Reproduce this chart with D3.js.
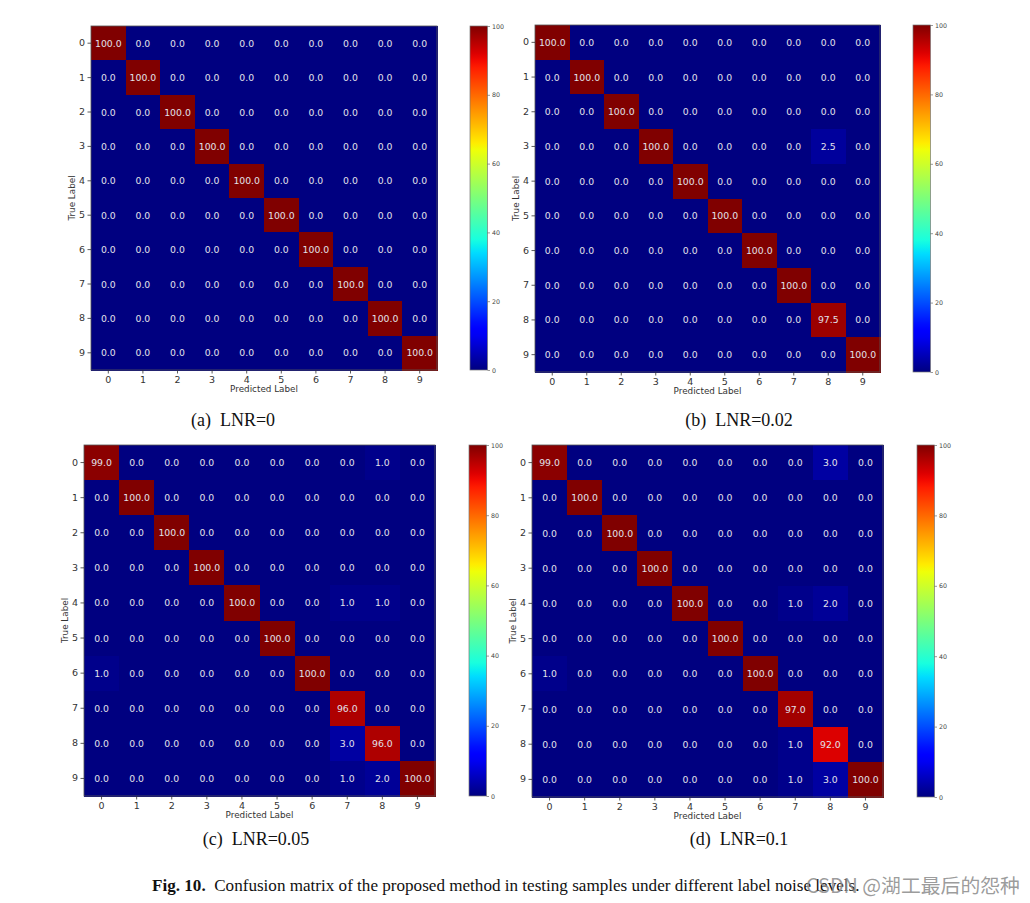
<!DOCTYPE html>
<html>
<head>
<meta charset="utf-8">
<script src="https://cdn.jsdelivr.net/npm/d3@7"></script>
<style>
  html, body { margin: 0; padding: 0; background: #ffffff; }
  svg { display: block; }
</style>
</head>
<body>
<svg id="chart" width="1030" height="903"></svg>
<script>
// ---------------- DATA ----------------
const classes = [0, 1, 2, 3, 4, 5, 6, 7, 8, 9];
const colorbarTicks = [0, 20, 40, 60, 80, 100];

const matrixA = [
  [100, 0, 0, 0, 0, 0, 0, 0, 0, 0],
  [0, 100, 0, 0, 0, 0, 0, 0, 0, 0],
  [0, 0, 100, 0, 0, 0, 0, 0, 0, 0],
  [0, 0, 0, 100, 0, 0, 0, 0, 0, 0],
  [0, 0, 0, 0, 100, 0, 0, 0, 0, 0],
  [0, 0, 0, 0, 0, 100, 0, 0, 0, 0],
  [0, 0, 0, 0, 0, 0, 100, 0, 0, 0],
  [0, 0, 0, 0, 0, 0, 0, 100, 0, 0],
  [0, 0, 0, 0, 0, 0, 0, 0, 100, 0],
  [0, 0, 0, 0, 0, 0, 0, 0, 0, 100]
];
const matrixB = [
  [100, 0, 0, 0, 0, 0, 0, 0, 0, 0],
  [0, 100, 0, 0, 0, 0, 0, 0, 0, 0],
  [0, 0, 100, 0, 0, 0, 0, 0, 0, 0],
  [0, 0, 0, 100, 0, 0, 0, 0, 2.5, 0],
  [0, 0, 0, 0, 100, 0, 0, 0, 0, 0],
  [0, 0, 0, 0, 0, 100, 0, 0, 0, 0],
  [0, 0, 0, 0, 0, 0, 100, 0, 0, 0],
  [0, 0, 0, 0, 0, 0, 0, 100, 0, 0],
  [0, 0, 0, 0, 0, 0, 0, 0, 97.5, 0],
  [0, 0, 0, 0, 0, 0, 0, 0, 0, 100]
];
const matrixC = [
  [99, 0, 0, 0, 0, 0, 0, 0, 1, 0],
  [0, 100, 0, 0, 0, 0, 0, 0, 0, 0],
  [0, 0, 100, 0, 0, 0, 0, 0, 0, 0],
  [0, 0, 0, 100, 0, 0, 0, 0, 0, 0],
  [0, 0, 0, 0, 100, 0, 0, 1, 1, 0],
  [0, 0, 0, 0, 0, 100, 0, 0, 0, 0],
  [1, 0, 0, 0, 0, 0, 100, 0, 0, 0],
  [0, 0, 0, 0, 0, 0, 0, 96, 0, 0],
  [0, 0, 0, 0, 0, 0, 0, 3, 96, 0],
  [0, 0, 0, 0, 0, 0, 0, 1, 2, 100]
];
const matrixD = [
  [99, 0, 0, 0, 0, 0, 0, 0, 3, 0],
  [0, 100, 0, 0, 0, 0, 0, 0, 0, 0],
  [0, 0, 100, 0, 0, 0, 0, 0, 0, 0],
  [0, 0, 0, 100, 0, 0, 0, 0, 0, 0],
  [0, 0, 0, 0, 100, 0, 0, 1, 2, 0],
  [0, 0, 0, 0, 0, 100, 0, 0, 0, 0],
  [1, 0, 0, 0, 0, 0, 100, 0, 0, 0],
  [0, 0, 0, 0, 0, 0, 0, 97, 0, 0],
  [0, 0, 0, 0, 0, 0, 0, 1, 92, 0],
  [0, 0, 0, 0, 0, 0, 0, 1, 3, 100]
];
const subCaptions = ["(a)\u00a0\u00a0LNR=0", "(b)\u00a0\u00a0LNR=0.02", "(c)\u00a0\u00a0LNR=0.05", "(d)\u00a0\u00a0LNR=0.1"];
const figLabel = "Fig. 10.";
const figText = "Confusion matrix of the proposed method in testing samples under different label noise levels.";
const watermark = "CSDN @湖工最后的怨种";
const xAxisTitle = "Predicted Label";
const yAxisTitle = "True Label";

// ---------------- LAYOUT ----------------
const layout = [
  { m: matrixA, x: 91,  y: 26,  w: 346, h: 344, cbx: 470, cbTop: 26,  cbBot: 370, capX: 233, capY: 420 },
  { m: matrixB, x: 535, y: 25,  w: 345, h: 347, cbx: 913, cbTop: 25,  cbBot: 372, capX: 739, capY: 420 },
  { m: matrixC, x: 84,  y: 445, w: 351, h: 351, cbx: 469, cbTop: 445, cbBot: 796, capX: 256, capY: 839 },
  { m: matrixD, x: 532, y: 445, w: 351, h: 352, cbx: 917, cbTop: 445, cbBot: 797, capX: 739, capY: 839 }
];
const cbWidth = 17.5;

// matplotlib "jet" colormap
const jetSeg = {
  r: [[0, 0], [0.35, 0], [0.66, 1], [0.89, 1], [1, 0.5]],
  g: [[0, 0], [0.125, 0], [0.375, 1], [0.64, 1], [0.91, 0], [1, 0]],
  b: [[0, 0.5], [0.11, 1], [0.34, 1], [0.65, 0], [1, 0]]
};
function seg(pts, t) {
  for (let i = 1; i < pts.length; i++) {
    if (t <= pts[i][0]) {
      const [x0, y0] = pts[i - 1], [x1, y1] = pts[i];
      return y0 + (y1 - y0) * (t - x0) / (x1 - x0);
    }
  }
  return pts[pts.length - 1][1];
}
function jet(t) {
  t = Math.max(0, Math.min(1, t));
  return d3.rgb(seg(jetSeg.r, t) * 255, seg(jetSeg.g, t) * 255, seg(jetSeg.b, t) * 255).formatHex();
}
const color = d3.scaleSequential(jet).domain([0, 100]);

const svg = d3.select("#chart");
const defs = svg.append("defs");
const grad = defs.append("linearGradient").attr("id", "jetGrad")
  .attr("x1", "0").attr("y1", "1").attr("x2", "0").attr("y2", "0");
d3.range(0, 101, 2).forEach(v => {
  grad.append("stop").attr("offset", (v / 100)).attr("stop-color", color(v));
});

const tickColor = "#333";

layout.forEach((p, idx) => {
  const g = svg.append("g");
  const xs = d3.scaleBand().domain(classes).range([p.x, p.x + p.w]);
  const ys = d3.scaleBand().domain(classes).range([p.y, p.y + p.h]);

  const cells = [];
  p.m.forEach((row, i) => row.forEach((v, j) => cells.push({ i, j, v })));

  g.selectAll("rect.cell").data(cells).join("rect")
    .attr("class", "cell")
    .attr("x", d => xs(d.j))
    .attr("y", d => ys(d.i))
    .attr("width", xs.bandwidth() + 0.5)
    .attr("height", ys.bandwidth() + 0.5)
    .attr("fill", d => color(d.v))
    .attr("shape-rendering", "crispEdges");

  g.selectAll("text.val").data(cells).join("text")
    .attr("class", "val")
    .attr("x", d => xs(d.j) + xs.bandwidth() / 2)
    .attr("y", d => ys(d.i) + ys.bandwidth() / 2)
    .attr("text-anchor", "middle")
    .attr("dominant-baseline", "central")
    .attr("font-family", "DejaVu Sans")
    .attr("font-size", 9.3)
    .attr("fill", "#e2e2ea")
    .text(d => d.v.toFixed(1));

  // frame
  g.append("rect")
    .attr("x", p.x).attr("y", p.y).attr("width", p.w).attr("height", p.h)
    .attr("fill", "none").attr("stroke", "#555").attr("stroke-width", 0.8);

  // axes
  const xAxis = d3.axisBottom(xs).tickSize(3.5).tickPadding(2.5);
  const yAxis = d3.axisLeft(ys).tickSize(3.5).tickPadding(2.5);
  const gx = g.append("g").attr("transform", `translate(0,${p.y + p.h})`).call(xAxis);
  const gy = g.append("g").attr("transform", `translate(${p.x},0)`).call(yAxis);
  [gx, gy].forEach(a => {
    a.select(".domain").remove();
    a.selectAll(".tick line").attr("stroke", tickColor).attr("stroke-width", 0.8);
    a.selectAll(".tick text").attr("fill", tickColor)
      .attr("font-family", "DejaVu Sans").attr("font-size", 9.5);
  });

  g.append("text")
    .attr("x", p.x + p.w / 2).attr("y", p.y + p.h + 19)
    .attr("text-anchor", "middle").attr("dominant-baseline", "central")
    .attr("font-family", "DejaVu Sans").attr("font-size", 8.8).attr("fill", tickColor)
    .text(xAxisTitle);
  g.append("text")
    .attr("transform", `translate(${p.x - 19},${p.y + p.h / 2}) rotate(-90)`)
    .attr("text-anchor", "middle").attr("dominant-baseline", "central")
    .attr("font-family", "DejaVu Sans").attr("font-size", 8.8).attr("fill", tickColor)
    .text(yAxisTitle);

  // colorbar
  const cs = d3.scaleLinear().domain([0, 100]).range([p.cbBot, p.cbTop]);
  g.append("rect")
    .attr("x", p.cbx).attr("y", p.cbTop).attr("width", cbWidth).attr("height", p.cbBot - p.cbTop)
    .attr("fill", "url(#jetGrad)").attr("stroke", "#777").attr("stroke-width", 0.7);
  const cbAxis = d3.axisRight(cs).tickValues(colorbarTicks).tickSize(2.5).tickPadding(2);
  const gc = g.append("g").attr("transform", `translate(${p.cbx + cbWidth},0)`).call(cbAxis);
  gc.select(".domain").remove();
  gc.selectAll(".tick line").attr("stroke", "#555").attr("stroke-width", 0.6);
  gc.selectAll(".tick text").attr("fill", "#444")
    .attr("font-family", "DejaVu Sans").attr("font-size", 6.3);

  // sub caption
  svg.append("text")
    .attr("x", p.capX).attr("y", p.capY)
    .attr("text-anchor", "middle").attr("dominant-baseline", "central")
    .attr("font-family", "Liberation Serif").attr("font-size", 18).attr("fill", "#111")
    .text(subCaptions[idx]);
});

// figure caption
const cap = svg.append("text")
  .attr("x", 152).attr("y", 885)
  .attr("dominant-baseline", "central")
  .attr("font-family", "Liberation Serif").attr("font-size", 15).attr("fill", "#111");
cap.append("tspan").attr("font-weight", "bold").text(figLabel);
cap.append("tspan").text("\u00a0\u00a0" + figText);
const capLen = cap.node().getComputedTextLength();
cap.attr("font-size", 15 * 708 / capLen);

// watermark
const wm = svg.append("text")
  .attr("x", 806).attr("y", 884)
  .attr("dominant-baseline", "central")
  .attr("font-family", "Noto Sans CJK SC").attr("font-size", 19)
  .attr("fill", "#8a8a8a").attr("fill-opacity", 0.85)
  .text(watermark);
const wmLen = wm.node().getComputedTextLength();
wm.attr("font-size", 19 * 214 / wmLen);
</script>
</body>
</html>
